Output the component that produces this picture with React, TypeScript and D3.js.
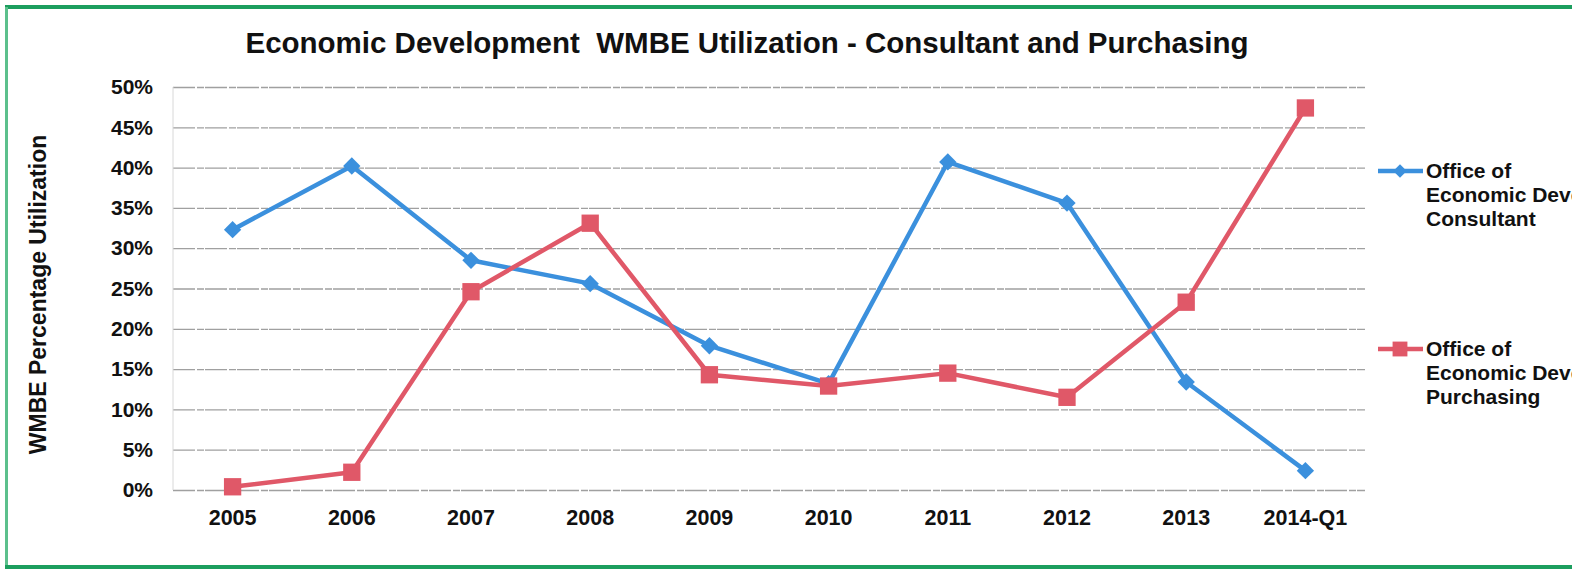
import { useEffect, useRef } from "react";
import * as d3 from "d3";

const categories = ["2005", "2006", "2007", "2008", "2009", "2010", "2011", "2012", "2013", "2014-Q1"];
const consultant = [32.3, 40.2, 28.5, 25.6, 17.9, 13.2, 40.7, 35.6, 13.4, 2.4];
const purchasing = [0.4, 2.2, 24.6, 33.1, 14.3, 12.9, 14.5, 11.5, 23.3, 47.4];
const yTicks = [0, 5, 10, 15, 20, 25, 30, 35, 40, 45, 50];
const seriesNames = [
  ["Office of", "Economic Development", "Consultant"],
  ["Office of", "Economic Development", "Purchasing"],
];

const W = 1572;
const H = 569;
const FONT = "Arial, 'Liberation Sans', sans-serif";

const App = () => {
  const svgRef = useRef<SVGSVGElement | null>(null);

  useEffect(() => {
    const svg = d3.select(svgRef.current).attr("width", W).attr("height", H);
    svg.selectAll("*").remove();

    const margin = { top: 87, right: 207, bottom: 79, left: 173 };
    const innerW = W - margin.left - margin.right;
    const innerH = H - margin.top - margin.bottom;

    svg.append("rect").attr("width", W).attr("height", H).attr("fill", "#fff");

    // green frame
    svg.append("line").attr("x1", 5).attr("x2", W).attr("y1", 7).attr("y2", 7)
      .attr("stroke", "#1c9e5e").attr("stroke-width", 4);
    svg.append("line").attr("x1", 6.5).attr("x2", 6.5).attr("y1", 7).attr("y2", 568)
      .attr("stroke", "#5cc08c").attr("stroke-width", 3);
    svg.append("line").attr("x1", 5).attr("x2", W).attr("y1", 567).attr("y2", 567)
      .attr("stroke", "#1c9e5e").attr("stroke-width", 4);

    svg.append("text")
      .attr("x", 747).attr("y", 53)
      .attr("text-anchor", "middle")
      .style("font-family", FONT).style("font-weight", "bold").style("font-size", "29.5px")
      .attr("fill", "#111")
      .attr("xml:space", "preserve")
      .text("Economic Development  WMBE Utilization - Consultant and Purchasing");

    svg.append("text")
      .attr("transform", `translate(46,${margin.top + innerH / 2 + 6}) rotate(-90)`)
      .attr("text-anchor", "middle")
      .style("font-family", FONT).style("font-weight", "bold").style("font-size", "23px")
      .attr("fill", "#111")
      .text("WMBE Percentage Utilization");

    const g = svg.append("g").attr("transform", `translate(${margin.left},${margin.top})`);

    const x = d3.scaleBand().domain(categories).range([0, innerW]);
    const y = d3.scaleLinear().domain([0, 50]).range([innerH, 0]);
    const cx = (c: string) => (x(c) ?? 0) + x.bandwidth() / 2;

    g.append("g")
      .call(d3.axisLeft(y).tickValues(yTicks).tickSize(-innerW).tickFormat(() => ""))
      .call((gg) => gg.select(".domain").remove())
      .selectAll(".tick line")
      .attr("stroke", "#a0a0a0")
      .attr("stroke-width", 1.3)
      .attr("stroke-dasharray", "22 2 7 1");

    g.append("line").attr("x1", 0).attr("x2", 0).attr("y1", 0).attr("y2", innerH)
      .attr("stroke", "#d8d8d8").attr("stroke-width", 1);

    g.append("g")
      .call(d3.axisLeft(y).tickValues(yTicks).tickSize(0).tickPadding(20).tickFormat((d) => `${d}%`))
      .call((gg) => gg.select(".domain").remove())
      .selectAll("text")
      .style("font-family", FONT).style("font-weight", "bold").style("font-size", "21px")
      .attr("fill", "#111");

    g.append("g")
      .attr("transform", `translate(0,${innerH})`)
      .call(d3.axisBottom(x).tickSize(0).tickPadding(20))
      .call((gg) => gg.select(".domain").remove())
      .selectAll("text")
      .style("font-family", FONT).style("font-weight", "bold").style("font-size", "21.5px")
      .attr("fill", "#111");

    const colors = ["#3b90dd", "#e05868"];
    const allSeries = [consultant, purchasing];

    const line = d3.line<number>()
      .x((_, i) => cx(categories[i]))
      .y((d) => y(d));

    const diamond = d3.symbol().type(d3.symbolSquare).size(150);
    const square = d3.symbol().type(d3.symbolSquare).size(300);

    allSeries.forEach((vals, si) => {
      g.append("path")
        .datum(vals)
        .attr("fill", "none")
        .attr("stroke", colors[si])
        .attr("stroke-width", 4.5)
        .attr("stroke-linejoin", "round")
        .attr("d", line);

      g.selectAll(`.m${si}`)
        .data(vals)
        .enter()
        .append("path")
        .attr("class", `m${si}`)
        .attr("transform", (d, i) => `translate(${cx(categories[i])},${y(d)})${si === 0 ? " rotate(45)" : ""}`)
        .attr("d", si === 0 ? diamond() : square())
        .attr("fill", colors[si]);
    });

    // legend
    const legendY = [171, 349];
    legendY.forEach((ly, si) => {
      const lg = svg.append("g");
      lg.append("line").attr("x1", 1378).attr("x2", 1423).attr("y1", ly).attr("y2", ly)
        .attr("stroke", colors[si]).attr("stroke-width", 4.5);
      lg.append("path")
        .attr("transform", `translate(1400,${ly})${si === 0 ? " rotate(45)" : ""}`)
        .attr("d", si === 0 ? d3.symbol().type(d3.symbolSquare).size(90)() : d3.symbol().type(d3.symbolSquare).size(220)())
        .attr("fill", colors[si]);
      seriesNames[si].forEach((t, li) => {
        lg.append("text")
          .attr("x", 1426)
          .attr("y", ly + 7 + li * 24)
          .style("font-family", FONT).style("font-weight", "bold").style("font-size", "21px")
          .attr("fill", "#111")
          .text(t);
      });
    });
  }, []);

  return (
    <div style={{ position: "fixed", left: 0, top: 0, width: W, height: H, overflow: "hidden" }}>
      <svg ref={svgRef} style={{ display: "block" }} />
    </div>
  );
};

export default App;
